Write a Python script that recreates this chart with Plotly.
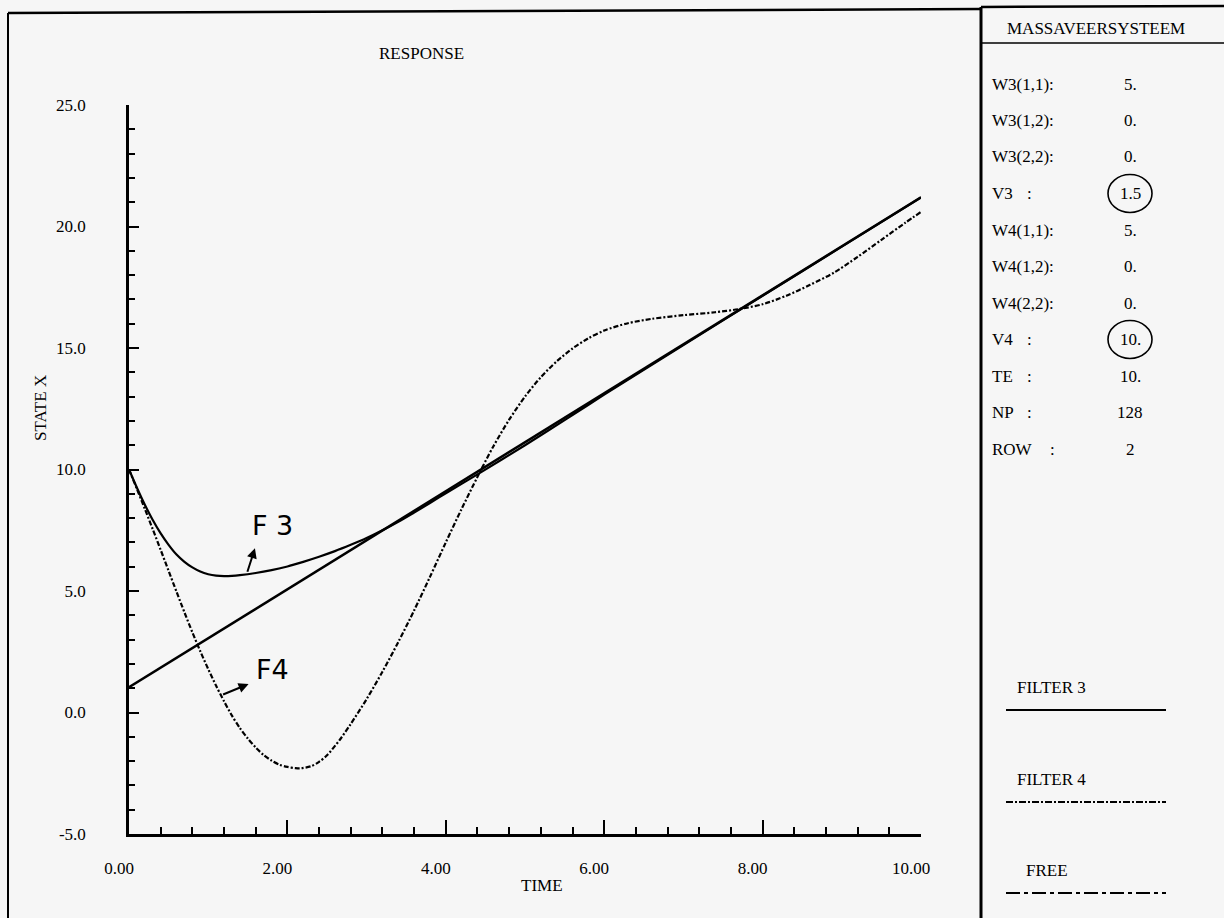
import plotly.graph_objects as go

# ---------------- data ----------------
time_free = [0.0, 10.0]
x_free = [1.04, 21.2]

time_f3 = [0.0, 0.1, 0.2, 0.3, 0.4, 0.5, 0.6, 0.7, 0.8, 0.9, 1.0, 1.1, 1.2, 1.3, 1.4,
           1.6, 1.8, 2.0, 2.2, 2.4, 2.6, 2.8, 3.0, 3.2, 3.4, 3.6, 3.8, 4.0, 4.4, 5.0,
           5.5, 6.0, 7.0, 8.0, 9.0, 10.0]
x_f3 = [10.0, 9.25, 8.55, 7.92, 7.37, 6.9, 6.5, 6.2, 5.97, 5.8, 5.69, 5.63, 5.61, 5.62, 5.65,
        5.74, 5.86, 6.01, 6.2, 6.41, 6.64, 6.9, 7.18, 7.5, 7.85, 8.23, 8.62, 9.02, 9.8, 11.0,
        12.03, 13.08, 15.12, 17.15, 19.17, 21.2]

time_f4 = [0.0, 0.1, 0.2, 0.3, 0.4, 0.5, 0.6, 0.7, 0.8, 0.9, 1.0, 1.1, 1.2, 1.3, 1.4,
           1.5, 1.6, 1.7, 1.8, 1.9, 2.0, 2.1, 2.16, 2.3, 2.4, 2.5, 2.66, 2.8, 3.0, 3.2,
           3.4, 3.6, 3.8, 4.0, 4.2, 4.4, 4.6, 4.8, 5.0, 5.2, 5.4, 5.6, 5.8, 6.0, 6.3,
           6.6, 7.0, 7.4, 7.7, 8.0, 8.3, 8.6, 8.9, 9.2, 9.5, 9.8, 10.0]
x_f4 = [10.0, 9.2, 8.38, 7.54, 6.69, 5.83, 4.97, 4.12, 3.3, 2.52, 1.79, 1.1, 0.46, -0.13, -0.64,
        -1.07, -1.44, -1.75, -1.98, -2.15, -2.24, -2.29, -2.30, -2.21, -2.03, -1.76, -1.13, -0.47, 0.55, 1.68,
        2.9, 4.2, 5.58, 7.0, 8.38, 9.7, 10.95, 12.05, 13.0, 13.8, 14.45, 14.98, 15.4, 15.72, 16.02,
        16.2, 16.35, 16.47, 16.6, 16.8, 17.15, 17.6, 18.1, 18.75, 19.45, 20.15, 20.6]

x_tickvals = [0, 2, 4, 6, 8, 10]
x_ticktext = ["0.00", "2.00", "4.00", "6.00", "8.00", "10.00"]
y_tickvals = [-5, 0, 5, 10, 15, 20, 25]
y_ticktext = ["-5.0", "0.0", "5.0", "10.0", "15.0", "20.0", "25.0"]

param_names = ["W3(1,1):", "W3(1,2):", "W3(2,2):", "V3", "W4(1,1):", "W4(1,2):",
               "W4(2,2):", "V4", "TE", "NP", "ROW"]
param_values = ["5.", "0.", "0.", "1.5", "5.", "0.", "0.", "10.", "10.", "128", "2"]
circled_params = ["V3", "V4"]

legend_names = ["FILTER 3", "FILTER 4", "FREE"]

# ---------------- layout helpers ----------------
W, H = 1224, 918
L, R, T, B = 129, 921, 105, 834
SERIF = "Liberation Serif, Times New Roman, serif"
BG = "#f6f6f6"
FS = 17


def PX(x):
    return (x - L) / (R - L)


def PY(y):
    return (B - y) / (B - T)


fig = go.Figure()

fig.add_trace(go.Scatter(x=time_free, y=x_free, mode="lines", name="FREE",
                         line=dict(color="black", width=2.5), showlegend=False))
fig.add_trace(go.Scatter(x=time_f3, y=x_f3, mode="lines", name="FILTER 3",
                         line=dict(color="black", width=2.2, shape="spline", smoothing=0.8),
                         showlegend=False))
fig.add_trace(go.Scatter(x=time_f4, y=x_f4, mode="lines", name="FILTER 4",
                         line=dict(color="black", width=2.2, shape="spline", smoothing=0.8,
                                   dash="5px,2px,2px,2px"),
                         showlegend=False))

shapes = []
ann = []


def line(x0, y0, x1, y1, w=2, dash="solid"):
    shapes.append(dict(type="line", xref="paper", yref="paper",
                       x0=PX(x0), y0=PY(y0), x1=PX(x1), y1=PY(y1),
                       line=dict(color="black", width=w, dash=dash)))


def text(x, y, s, size=FS, xanchor="center", family=SERIF, angle=0):
    ann.append(dict(xref="paper", yref="paper", x=PX(x), y=PY(y), text=s,
                    showarrow=False, xanchor=xanchor, yanchor="middle",
                    textangle=angle, font=dict(family=family, size=size, color="black")))


# frame
line(8, 13, 8, 918, 2)
line(8, 13, 981, 9, 2.5)
line(981, 7, 1224, 6, 2.5)
line(981, 7, 981, 918, 3)
line(981, 43, 1224, 43, 1.5)

# titles
text(421, 54, "RESPONSE")
text(542, 885, "TIME")
text(40, 408, "STATE X", angle=-90)
text(1096, 28, "MASSAVEERSYSTEEM")

# parameter table
row0, drow = 84, 36.5
for i, (nm, val) in enumerate(zip(param_names, param_values)):
    y = row0 + i * drow
    text(990, y, nm, xanchor="left")
    if not nm.endswith(":"):
        text(1052 if nm == "ROW" else 1029, y, ":")
    text(1130, y, val)
    if nm in circled_params:
        shapes.append(dict(type="circle", xref="paper", yref="paper",
                           x0=PX(1108), x1=PX(1152), y0=PY(y - 19), y1=PY(y + 19),
                           line=dict(color="black", width=1.6)))

# legend
leg_y = [687, 779, 870]
leg_x = [1015, 1015, 1024]
leg_dash = ["solid", "7px,2px,2px,2px", "14px,4px,4px,4px"]
for nm, y, x, d in zip(legend_names, leg_y, leg_x, leg_dash):
    text(x, y, nm, xanchor="left")
    line(1006, y + 23, 1166, y + 23, 2, d)

# hand-written annotations
HAND = "DejaVu Sans, sans-serif"
ann.append(dict(x=1.59, y=6.76, xref="x", yref="y", ax=-8, ay=25, showarrow=True,
                arrowhead=2, arrowsize=1, arrowwidth=2, arrowcolor="black", text=""))
ann.append(dict(x=1.51, y=1.17, xref="x", yref="y", ax=-27, ay=11, showarrow=True,
                arrowhead=2, arrowsize=1, arrowwidth=2, arrowcolor="black", text=""))
text(272, 525, "F 3", size=27, family=HAND)
text(272, 669, "F4", size=27, family=HAND)

fig.update_layout(
    width=W, height=H,
    margin=dict(l=L, r=W - R, t=T, b=H - B, pad=0),
    paper_bgcolor=BG, plot_bgcolor=BG,
    showlegend=False,
    shapes=shapes, annotations=ann,
    xaxis=dict(range=[0, 10], tickmode="array", tickvals=x_tickvals, ticktext=x_ticktext,
               showgrid=False, zeroline=False, showline=True, linecolor="black", linewidth=2.5,
               ticks="inside", ticklen=14, tickwidth=2, tickcolor="black",
               minor=dict(tickmode="linear", tick0=0, dtick=0.4, ticks="inside", ticklen=7,
                          tickwidth=1.5, tickcolor="black"),
               ticklabelstandoff=17, ticklabelshift=-10,
               tickfont=dict(family=SERIF, size=FS, color="black")),
    yaxis=dict(range=[-5, 25], tickmode="array", tickvals=y_tickvals, ticktext=y_ticktext,
               showgrid=False, zeroline=False, showline=True, linecolor="black", linewidth=2.5,
               ticks="inside", ticklen=10, tickwidth=2, tickcolor="black",
               minor=dict(tickmode="linear", tick0=0, dtick=1, ticks="inside", ticklen=6,
                          tickwidth=1.5, tickcolor="black"),
               ticklabelstandoff=37,
               tickfont=dict(family=SERIF, size=FS, color="black")),
)

fig.write_html("out.html")
